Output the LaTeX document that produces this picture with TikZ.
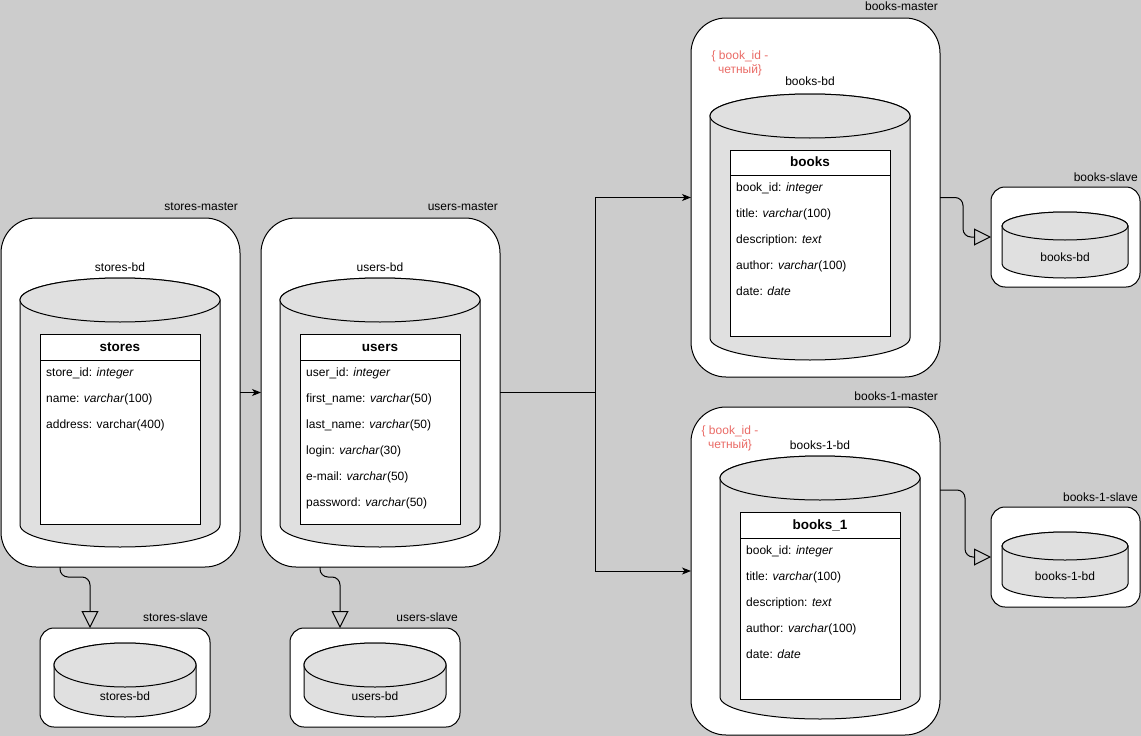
\documentclass[tikz,border=0pt]{standalone}
\usepackage{fontspec}
\setmainfont{Liberation Sans}
\usetikzlibrary{
  arrows.meta,
  calc,
  positioning
}
\definecolor{bgGray}{HTML}{CCCCCC}
\definecolor{cylGray}{HTML}{E0E0E0}
\definecolor{noteRed}{HTML}{EA6B66}
\tikzset{>={Stealth[length=9pt,width=7pt,inset=2.5pt]}}
\tikzset{
  master/.style={draw, fill=white, line width=1pt, rounded corners=35pt, inner sep=0pt, outer sep=0pt},
  slave/.style={draw, fill=white, line width=1pt, rounded corners=14pt, inner sep=0pt, outer sep=0pt},
  cyl/.style={draw, fill=cylGray, line width=1pt},
  tbl/.style={draw, fill=white, line width=1pt, inner sep=0pt, outer sep=0pt, minimum width=160pt, anchor=north west},
  lbl/.style={font=\fontsize{12}{14}\selectfont, inner sep=0pt, text height=8.6pt, text depth=2.6pt},
  field/.style={lbl, anchor=west},
  head/.style={font=\fontsize{13.5}{16}\selectfont\bfseries, inner sep=0pt, text height=9.8pt, text depth=2.8pt},
  note/.style={font=\fontsize{12}{14}\selectfont, inner sep=0pt, text=noteRed, align=center},
  conn/.style={line width=1pt, ->},
  repl/.style={line width=1pt, rounded corners=8pt, -{Triangle[open,length=17pt,width=17pt]}}
}
% cylinder: centre x, x radius, top y, bottom y, y radius (y counted downwards)
\newcommand{\dbcyl}[5]{%
  \draw[cyl] (#1-#2,-#3) -- (#1-#2,-#4)
    arc[start angle=180, end angle=360, x radius=#2, y radius=#5]
    -- (#1+#2,-#3)
    arc[start angle=0, end angle=180, x radius=#2, y radius=#5] -- cycle;
  \draw[cyl] (#1,-#3) ellipse[x radius=#2, y radius=#5];}

\begin{document}
\begin{tikzpicture}[x=1pt,y=1pt]
  \fill[bgGray] (0,0) rectangle (1141,-736);
  \useasboundingbox (0,0) rectangle (1141,-736);

  % masters
  \node[master, minimum width=239pt, minimum height=349pt] (storesM) at (120.5,-392.5) {};
  \node[master, minimum width=239pt, minimum height=349pt] (usersM) at (380.5,-392.5) {};
  \node[master, minimum width=249pt, minimum height=359pt] (booksM) at (815.5,-197.5) {};
  \node[master, minimum width=249pt, minimum height=328pt] (books1M) at (815.5,-571) {};
  \node[lbl, anchor=east] (storesML) at (238,-207.5) {stores-master};
  \node[lbl, anchor=east] (usersML) at (498,-207.5) {users-master};
  \node[lbl, anchor=east] (booksML) at (938,-7.5) {books-master};
  \node[lbl, anchor=east] (books1ML) at (938,-397.5) {books-1-master};

  % slaves
  \node[slave, minimum width=170pt, minimum height=99pt] (storesS) at (125,-677.5) {};
  \node[slave, minimum width=170pt, minimum height=99pt] (usersS) at (375,-677.5) {};
  \node[slave, minimum width=149pt, minimum height=100pt] (booksS) at (1065.5,-237) {};
  \node[slave, minimum width=149pt, minimum height=100pt] (books1S) at (1065.5,-557) {};
  \node[lbl, anchor=east] (storesSL) at (208,-618) {stores-slave};
  \node[lbl, anchor=east] (usersSL) at (458,-618) {users-slave};
  \node[lbl, anchor=east] (booksSL) at (1138,-178) {books-slave};
  \node[lbl, anchor=east] (books1SL) at (1138,-498) {books-1-slave};

  % databases
  \dbcyl{120}{100}{300}{525}{22}
  \dbcyl{380}{100}{300}{525}{22}
  \dbcyl{810}{100}{116}{338}{22}
  \dbcyl{820}{100}{478}{697}{22}
  \dbcyl{125}{71}{665}{695}{22}
  \dbcyl{375}{71}{665}{695}{22}
  \dbcyl{1065}{63}{226}{264}{14}
  \dbcyl{1065}{63}{546}{584}{14}
  \node[lbl] (storesDB) at (120,-268.5) {stores-bd};
  \node[lbl] (usersDB) at (380,-268.5) {users-bd};
  \node[lbl] (booksDB) at (810,-82.5) {books-bd};
  \node[lbl] (books1DB) at (820,-446.5) {books-1-bd};
  \node[lbl] (storesSDB) at (125,-697.5) {stores-bd};
  \node[lbl] (usersSDB) at (375,-697.5) {users-bd};
  \node[lbl] (booksSDB) at (1065,-258.5) {books-bd};
  \node[lbl] (books1SDB) at (1065,-577.5) {books-1-bd};
  \node[note] (booksN) at (740,-63) {\{ book\_id -\\четный\}};
  \node[note] (books1N) at (730,-438) {\{ book\_id -\\четный\}};

  % tables
  \node[tbl, minimum height=190pt] (storesT) at (40,-334) {};
  \draw[line width=1pt] ([yshift=-26pt]storesT.north west) -- ([yshift=-26pt]storesT.north east);
  \node[head] (storesH) at ([yshift=-13.5pt]storesT.north) {stores};
  \foreach \t [count=\i from 0] in {{store\_id: \textit{integer}}, {name: \textit{varchar}(100)},
      {address: varchar(400)}}
    \node[field] at (46,-373.5-26*\i) {\t};

  \node[tbl, minimum height=190pt] (usersT) at (300,-334) {};
  \draw[line width=1pt] ([yshift=-26pt]usersT.north west) -- ([yshift=-26pt]usersT.north east);
  \node[head] (usersH) at ([yshift=-13.5pt]usersT.north) {users};
  \foreach \t [count=\i from 0] in {{user\_id: \textit{integer}}, {first\_name: \textit{varchar}(50)},
      {last\_name: \textit{varchar}(50)}, {login: \textit{varchar}(30)},
      {e-mail: \textit{varchar}(50)}, {password: \textit{varchar}(50)}}
    \node[field] at (306,-373.5-26*\i) {\t};

  \node[tbl, minimum height=186pt] (booksT) at (730,-150) {};
  \draw[line width=1pt] ([yshift=-25pt]booksT.north west) -- ([yshift=-25pt]booksT.north east);
  \node[head] (booksH) at ([yshift=-13pt]booksT.north) {books};
  \foreach \t [count=\i from 0] in {{book\_id: \textit{integer}}, {title: \textit{varchar}(100)},
      {description: \textit{text}}, {author: \textit{varchar}(100)}, {date: \textit{date}}}
    \node[field] at (736,-188.5-26*\i) {\t};

  \node[tbl, minimum height=187pt] (books1T) at (740,-512) {};
  \draw[line width=1pt] ([yshift=-26pt]books1T.north west) -- ([yshift=-26pt]books1T.north east);
  \node[head] (books1H) at ([yshift=-13.5pt]books1T.north) {books\_1};
  \foreach \t [count=\i from 0] in {{book\_id: \textit{integer}}, {title: \textit{varchar}(100)},
      {description: \textit{text}}, {author: \textit{varchar}(100)}, {date: \textit{date}}}
    \node[field] at (746,-551.5-26*\i) {\t};

  % connectors
  \coordinate (split) at (595,-392.5);
  \draw[conn] (storesM.east) -- (usersM.west);
  \draw[conn] (usersM.east) -- (split) |- (booksM.west);
  \draw[conn] (split) |- (books1M.west);

  % replication
  \draw[repl] ([xshift=59pt]storesM.south west) -- ++(0,-10) -| ([xshift=50pt]storesS.north west);
  \draw[repl] ([xshift=59pt]usersM.south west) -- ++(0,-10) -| ([xshift=50pt]usersS.north west);
  \draw[repl] (booksM.east) -- ++(23,0) |- (booksS.west);
  \draw[repl] ([yshift=-83pt]books1M.north east) -- ++(25,0) |- (books1S.west);
\end{tikzpicture}
\end{document}
